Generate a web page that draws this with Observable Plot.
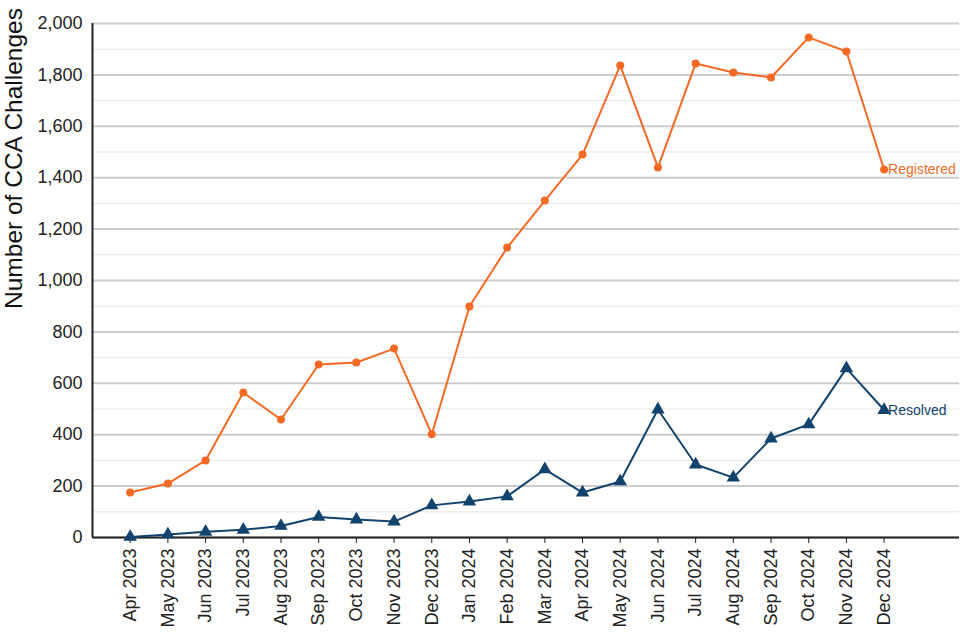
<!DOCTYPE html>
<html>
<head>
<meta charset="utf-8">
<script src="https://cdn.jsdelivr.net/npm/d3@7"></script>
<script src="https://cdn.jsdelivr.net/npm/@observablehq/plot@0.6"></script>
<style>
  html, body { margin: 0; padding: 0; background: #fff; }
  #chart { width: 960px; height: 640px; }
</style>
</head>
<body>
<div id="chart"></div>
<script>
const months = ["Apr 2023","May 2023","Jun 2023","Jul 2023","Aug 2023","Sep 2023","Oct 2023","Nov 2023","Dec 2023","Jan 2024","Feb 2024","Mar 2024","Apr 2024","May 2024","Jun 2024","Jul 2024","Aug 2024","Sep 2024","Oct 2024","Nov 2024","Dec 2024"];
const registered = [175,210,300,564,459,673,681,735,402,899,1128,1311,1490,1837,1440,1844,1809,1790,1946,1891,1432];
const resolved = [2,12,22,30,45,80,70,62,125,140,160,265,175,218,498,284,233,385,440,658,496];
const yMajorTicks = [0,200,400,600,800,1000,1200,1400,1600,1800,2000];
const yMinorTicks = [100,300,500,700,900,1100,1300,1500,1700,1900];

const orange = "#F46A25";
const navy = "#12436D";

const regData = months.map((m, i) => ({i, m, v: registered[i]}));
const resData = months.map((m, i) => ({i, m, v: resolved[i]}));
const last = months.length - 1;

const chart = Plot.plot({
  width: 960,
  height: 640,
  marginLeft: 92,
  marginRight: 1,
  marginTop: 23,
  marginBottom: 103,
  style: {fontFamily: "Liberation Sans, Arial, sans-serif", background: "#fff", overflow: "visible"},
  x: {domain: [-1, 22], ticks: d3.range(months.length), tickFormat: i => months[i], label: null},
  y: {domain: [0, 2000], label: null},
  marks: [
    Plot.ruleY(yMinorTicks, {stroke: "#e6e6e6", strokeWidth: 1}),
    Plot.ruleY(yMajorTicks, {stroke: "#cccccc", strokeWidth: 2}),
    Plot.axisY({ticks: yMajorTicks, tickSize: 0, tickPadding: 10, fontSize: 18, tickFormat: d3.format(","), label: null, fill: "#222"}),
    Plot.text(["Number of CCA Challenges"], {frameAnchor: "top-left", textAnchor: "middle", rotate: -90, dx: -88, dy: 135, fontSize: 24.5, fill: "#111"}),
    Plot.axisX({ticks: d3.range(months.length), tickFormat: i => months[i], tickRotate: -90, tickSize: 6, tickPadding: 5, fontSize: 18, fill: "#222", stroke: "#222", label: null, textAnchor: "end"}),
    Plot.ruleX([-1], {stroke: "#222", strokeWidth: 2}),
    Plot.ruleY([0], {stroke: "#222", strokeWidth: 2}),
    Plot.line(regData, {x: "i", y: "v", stroke: orange, strokeWidth: 2}),
    Plot.dot(regData, {x: "i", y: "v", fill: orange, r: 4}),
    Plot.line(resData, {x: "i", y: "v", stroke: navy, strokeWidth: 2}),
    Plot.dot(resData, {x: "i", y: "v", fill: navy, symbol: "triangle", r: 5}),
    Plot.text([regData[last]], {x: "i", y: "v", text: () => "Registered", textAnchor: "start", dx: 4, fill: orange, fontSize: 14}),
    Plot.text([resData[last]], {x: "i", y: "v", text: () => "Resolved", textAnchor: "start", dx: 4, fill: navy, fontSize: 14})
  ]
});
document.getElementById("chart").appendChild(chart);
</script>
</body>
</html>
